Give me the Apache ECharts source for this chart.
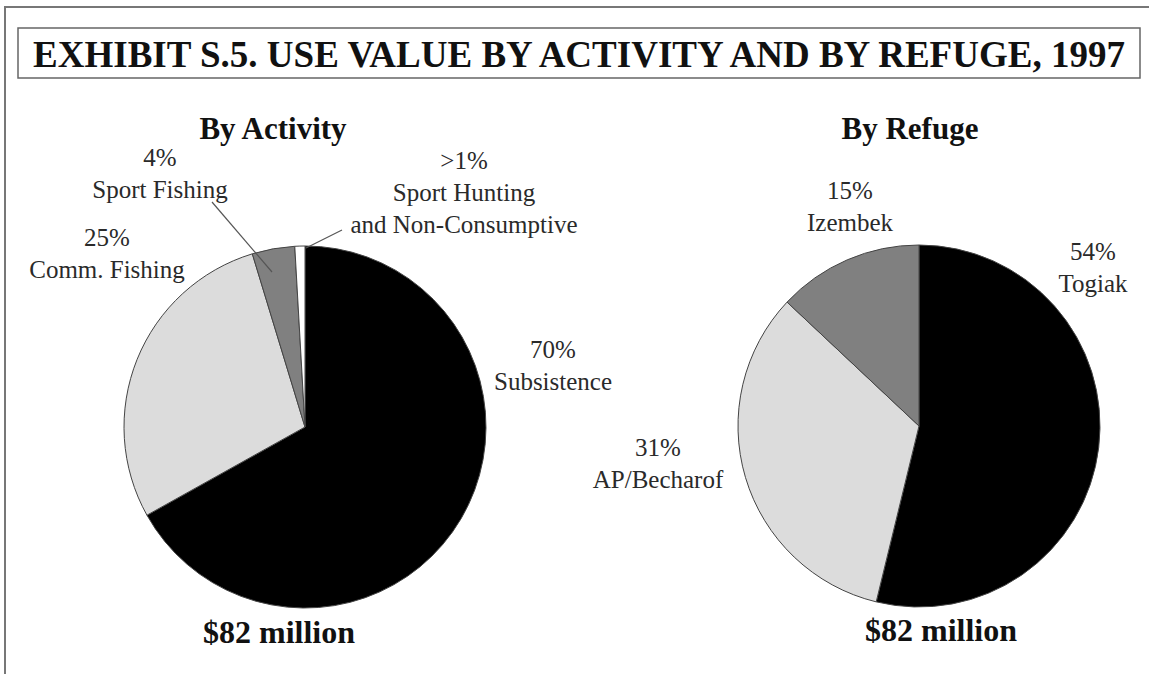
<!DOCTYPE html>
<html>
<head>
<meta charset="utf-8">
<script src="https://cdn.jsdelivr.net/npm/echarts@6/dist/echarts.min.js"></script>
<style>
html,body{margin:0;padding:0;background:#fff;}
#chart{width:1149px;height:674px;}
</style>
</head>
<body>
<div id="chart"></div>
<script>
// ---- Data ----
const activityNames = ['Subsistence', 'Comm. Fishing', 'Sport Fishing', 'Sport Hunting\nand Non-Consumptive'];
const activityValues = [66.9, 28.4, 3.8, 0.9];          // slice sizes as drawn
const activityPctLabels = ['70%', '25%', '4%', '>1%'];  // printed labels
const refugeNames = ['Togiak', 'AP/Becharof', 'Izembek'];
const refugeValues = [53.8, 33.2, 13.0];
const refugePctLabels = ['54%', '31%', '15%'];
const totalLabels = ['$82 million', '$82 million'];
const panelTitles = ['By Activity', 'By Refuge'];
const mainTitle = 'EXHIBIT S.5. USE VALUE BY ACTIVITY AND BY REFUGE, 1997';

// ---- Styles / layout ----
const activityColors = ['#000000', '#dcdcdc', '#808080', '#ffffff'];
const refugeColors = ['#000000', '#dcdcdc', '#808080'];
const activityLabelPos = [[553, 365], [107, 253], [160, 173], [464, 192]];
const refugeLabelPos = [[1093, 267], [658, 463], [850, 206]];
const serif = '"Liberation Serif", "Times New Roman", serif';

function buildData(names, values, colors) {
  return names.map((n, i) => ({
    name: n,
    value: values[i],
    itemStyle: { color: colors[i] }
  }));
}

const labelCommon = {
  show: true,
  fontFamily: serif,
  fontSize: 25,
  lineHeight: 32,
  color: '#2a2a2a',
  align: 'center'
};

const chart = echarts.init(document.getElementById('chart'), null, { renderer: 'svg' });

function pieSeries(center, names, values, pcts, colors, pos) {
  return {
    type: 'pie',
    center: center,
    radius: [0, 181],
    startAngle: 90,
    clockwise: true,
    avoidLabelOverlap: false,
    silent: true,
    itemStyle: { borderColor: '#444', borderWidth: 1 },
    label: Object.assign({}, labelCommon, {
      formatter: p => pcts[p.dataIndex] + '\n' + names[p.dataIndex]
    }),
    labelLine: { show: false },
    labelLayout: p => ({
      x: pos[p.dataIndex][0],
      y: pos[p.dataIndex][1],
      align: 'center',
      verticalAlign: 'middle'
    }),
    data: buildData(names, values, colors)
  };
}

chart.setOption({
  backgroundColor: '#ffffff',
  animation: false,
  series: [
    pieSeries([305, 427], activityNames, activityValues, activityPctLabels, activityColors, activityLabelPos),
    pieSeries([919, 426], refugeNames, refugeValues, refugePctLabels, refugeColors, refugeLabelPos)
  ],
  graphic: [
    // outer frame (top and left edges)
    { type: 'line', shape: { x1: 4, y1: 7, x2: 1149, y2: 7 }, style: { stroke: '#777', lineWidth: 2 } },
    { type: 'line', shape: { x1: 5, y1: 7, x2: 5, y2: 674 }, style: { stroke: '#777', lineWidth: 2 } },
    // title box
    { type: 'rect', shape: { x: 18, y: 28, width: 1122, height: 50 }, style: { fill: 'none', stroke: '#666', lineWidth: 1.5 } },
    { type: 'text', x: 579, y: 54, style: { text: mainTitle, fontFamily: serif, fontWeight: 'bold', fontSize: 37, fill: '#111', textAlign: 'center', textVerticalAlign: 'middle' } },
    { type: 'text', x: 273, y: 128, style: { text: panelTitles[0], fontFamily: serif, fontWeight: 'bold', fontSize: 31, fill: '#111', textAlign: 'center', textVerticalAlign: 'middle' } },
    { type: 'text', x: 910, y: 128, style: { text: panelTitles[1], fontFamily: serif, fontWeight: 'bold', fontSize: 31, fill: '#111', textAlign: 'center', textVerticalAlign: 'middle' } },
    { type: 'text', x: 279, y: 632, style: { text: totalLabels[0], fontFamily: serif, fontWeight: 'bold', fontSize: 32, fill: '#111', textAlign: 'center', textVerticalAlign: 'middle' } },
    { type: 'text', x: 941, y: 630, style: { text: totalLabels[1], fontFamily: serif, fontWeight: 'bold', fontSize: 32, fill: '#111', textAlign: 'center', textVerticalAlign: 'middle' } },
    // leader lines
    { type: 'polyline', z: 10, shape: { points: [[212, 202], [272, 272]] }, style: { stroke: '#555', lineWidth: 1.2, fill: 'none' } },
    { type: 'polyline', z: 10, shape: { points: [[342, 230], [306, 248]] }, style: { stroke: '#555', lineWidth: 1.2, fill: 'none' } }
  ]
});
</script>
</body>
</html>
